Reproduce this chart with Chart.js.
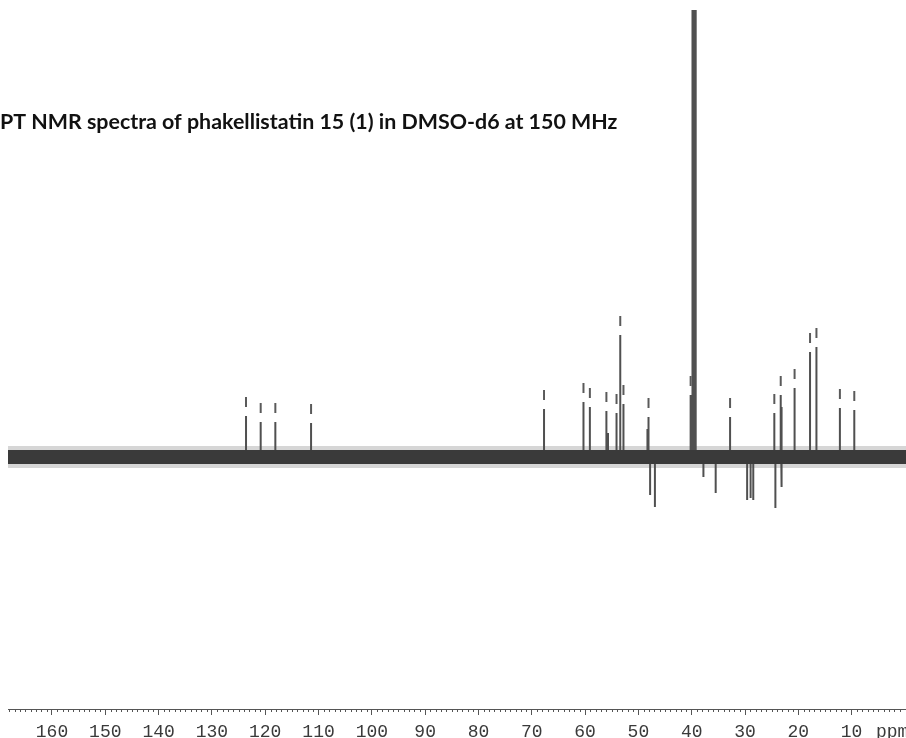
<!DOCTYPE html>
<html>
<head>
<meta charset="utf-8">
<script src="https://cdn.jsdelivr.net/npm/chart.js@4/dist/chart.umd.min.js"></script>
<style>
  html, body { margin: 0; padding: 0; background: #ffffff; }
  #wrap { width: 906px; height: 738px; }
</style>
</head>
<body>
<div id="wrap"><canvas id="nmr" width="906" height="738"></canvas></div>
<script>
/* ─────────────────────────────────────────
   DATA
───────────────────────────────────────── */
const titleText = 'PT NMR spectra of phakellistatin 15 (1) in DMSO-d6 at 150 MHz';
const ppmRange  = [168.25, -0.2];           // left edge → right edge
const majorTicks = [160, 150, 140, 130, 120, 110, 100, 90, 80, 70, 60, 50, 40, 30, 20, 10];
const unitLabel = 'ppm';

// peak positions (ppm) and heights (arbitrary units, negative = CH2 down)
const peakPpm = [
  123.6, 120.85, 118.1, 111.4,
  67.7, 60.3, 59.1, 56.0, 55.7, 54.1, 53.4, 52.8,
  48.3, 48.1, 47.8, 46.9,
  40.2, 39.85, 39.65, 39.45, 39.25,
  37.8, 35.5, 32.8, 29.6, 28.95, 28.45,
  24.5, 24.3, 23.3, 23.2, 23.1, 20.7, 17.8, 16.6, 12.2, 9.5
];
const peakHeight = [
  41, 35, 35, 34,
  48, 55, 50, 46, 24, 44, 122, 53,
  28, 40, -38, -50,
  62, 447, 447, 447, 447,
  -20, -36, 40, -43, -41, -43,
  44, -51, 62, -30, 50, 69, 105, 110, 49, 47
];
// peaks carrying a pick mark above them
const markedPpm = [
  123.6, 120.85, 118.1, 111.4, 67.7, 60.3, 59.1, 56.0, 54.1, 53.4, 52.8,
  48.1, 40.2, 32.8, 24.5, 23.3, 20.7, 17.8, 16.6, 12.2, 9.5
];

/* ─────────────────────────────────────────
   BUILD DATASETS
───────────────────────────────────────── */
const spectrum = [];
peakPpm.forEach((p, i) => {
  spectrum.push({ x: p, y: 0 }, { x: p, y: peakHeight[i] }, { x: p, y: 0 });
});
const baseline = ppmRange.map(p => ({ x: p, y: 0 }));
const marks = markedPpm.map(p => ({ x: p, y: peakHeight[peakPpm.indexOf(p)] + 14 }));

/* ─────────────────────────────────────────
   PLUGIN: title, minor ticks, unit label
───────────────────────────────────────── */
const decor = {
  id: 'decor',
  afterDraw(chart) {
    const { ctx } = chart;
    const sx = chart.scales.x;
    ctx.save();
    // minor ticks every 1 ppm
    ctx.strokeStyle = '#555';
    ctx.lineWidth = 1;
    ctx.beginPath();
    for (let p = Math.ceil(ppmRange[1]); p <= Math.floor(ppmRange[0]); p++) {
      if (p % 10 === 0) continue;
      const x = Math.round(sx.getPixelForValue(p)) + 0.5;
      ctx.moveTo(x, sx.top);
      ctx.lineTo(x, sx.top + 3);
    }
    ctx.stroke();
    // unit
    ctx.fillStyle = '#3a3a3a';
    ctx.font = "18px 'Liberation Mono', 'Courier New', monospace";
    ctx.textBaseline = 'middle';
    ctx.textAlign = 'left';
    ctx.fillText(unitLabel, 876, sx.top + 23);
    // title
    ctx.fillStyle = '#111';
    ctx.font = "bold 21.4px Lato, 'Open Sans', sans-serif";
    ctx.textBaseline = 'alphabetic';
    ctx.fillText(titleText, 0, 129);
    ctx.restore();
  }
};

/* ─────────────────────────────────────────
   CHART
───────────────────────────────────────── */
new Chart(document.getElementById('nmr'), {
  type: 'line',
  data: {
    datasets: [
      {
        label: 'pick marks',
        type: 'scatter',
        data: marks,
        pointStyle: 'line',
        rotation: 90,
        radius: 5,
        borderWidth: 2,
        borderColor: '#5a5a5a',
        order: 0,
      },
      {
        label: 'noise core',
        data: baseline,
        borderColor: '#3a3a3a',
        borderWidth: 14,
        pointRadius: 0,
        order: 1,
      },
      {
        label: 'spectrum',
        data: spectrum,
        borderColor: '#505050',
        borderWidth: 2,
        borderJoinStyle: 'bevel',
        pointRadius: 0,
        tension: 0,
        order: 2,
      },
      {
        label: 'noise halo',
        data: baseline,
        borderColor: 'rgba(70,70,70,0.22)',
        borderWidth: 22,
        pointRadius: 0,
        order: 3,
      },
    ]
  },
  options: {
    responsive: false,
    animation: false,
    layout: { autoPadding: false, padding: { left: 8, right: 0, top: 0, bottom: 0 } },
    plugins: { legend: { display: false }, tooltip: { enabled: false }, title: { display: false } },
    scales: {
      x: {
        type: 'linear',
        reverse: true,
        min: ppmRange[1],
        max: ppmRange[0],
        border: { display: true, color: '#555', width: 1 },
        grid: { display: true, drawOnChartArea: false, drawTicks: true, tickLength: 6, color: '#555' },
        afterBuildTicks: scale => { scale.ticks = majorTicks.map(v => ({ value: v })); },
        afterFit: scale => {
          scale.height = 29;
          scale.paddingLeft = 0;
          scale.paddingRight = 0;
        },
        ticks: {
          autoSkip: false,
          maxRotation: 0,
          padding: 8,
          color: '#3a3a3a',
          font: { family: "'Liberation Mono', 'Courier New', monospace", size: 18, lineHeight: 1 },
          callback: v => String(v),
        }
      },
      y: { display: false, min: -252, max: 457 }
    }
  },
  plugins: [decor]
});
</script>
</body>
</html>
